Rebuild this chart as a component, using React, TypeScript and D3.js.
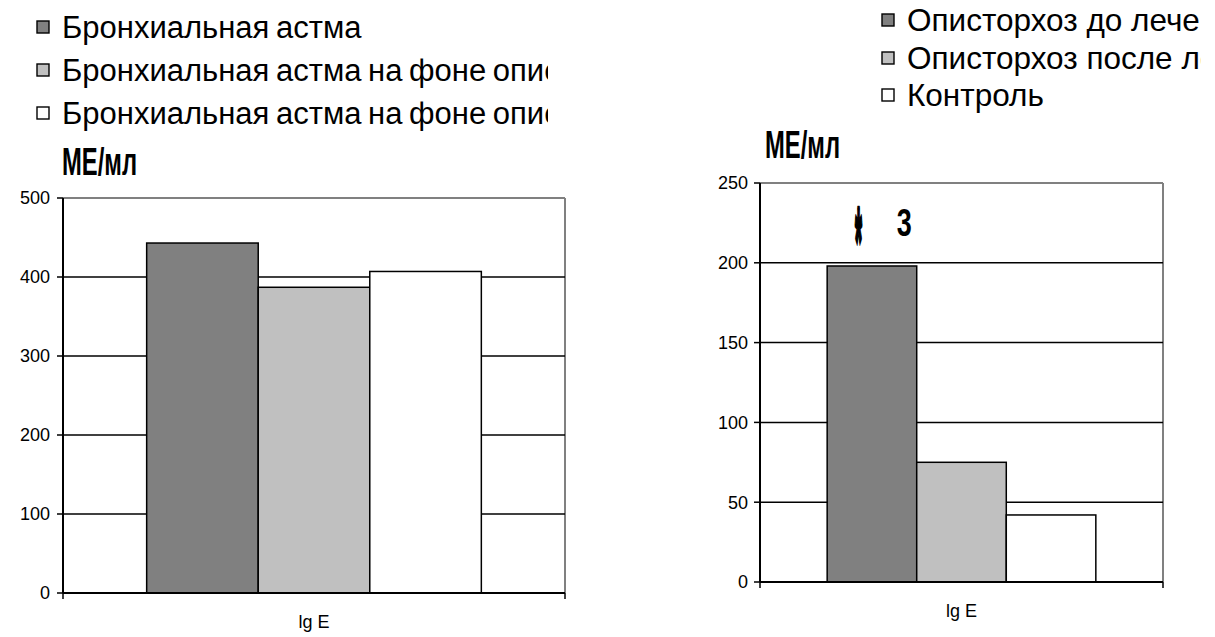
import React from "react";
import * as d3 from "d3";

// Categories and series
const category = ["lg E"];
const fills = ["#808080", "#c0c0c0", "#ffffff"];

const leftSeries = [
  "Бронхиальная астма",
  "Бронхиальная астма на фоне описторхоза до лечения",
  "Бронхиальная астма на фоне описторхоза после лечения",
];
const leftValues = [443, 387, 407];
const leftTicks = [0, 100, 200, 300, 400, 500];

const rightSeries = [
  "Описторхоз до лечения",
  "Описторхоз после лечения",
  "Контроль",
];
const rightValues = [198, 75, 42];
const rightTicks = [0, 50, 100, 150, 200, 250];

const unitLabel = "МЕ/мл";
const rightNote = ["*", "3"];

const FONT = "'Liberation Sans', Arial, sans-serif";

type PanelProps = {
  id: string;
  x0: number;
  x1: number;
  y0: number;
  y1: number;
  ticks: number[];
  values: number[];
  series: string[];
  legendX: number;
  legendRows: number[];
  legendClip: number;
  legendFont: number;
  legendWordSpacing: number;
  unitX: number;
  unitY: number;
  labelRight: number;
  catY: number;
  note?: boolean;
};

function Panel(p: PanelProps) {
  const y = d3
    .scaleLinear()
    .domain([0, d3.max(p.ticks) as number])
    .range([p.y1, p.y0]);
  const x = d3
    .scaleBand<string>()
    .domain(category)
    .range([p.x0, p.x1])
    .paddingInner(0)
    .paddingOuter(0.25);
  const xs = d3
    .scaleBand<number>()
    .domain(p.values.map((_, i) => i))
    .range([0, x.bandwidth()]);
  const bx = x(category[0]) as number;
  const cx = bx + x.bandwidth() / 2;
  const top = d3.max(p.ticks) as number;

  // annotation above the first bar
  const noteBase = y(p.values[0] + 19);
  const starX = bx + (xs(0) as number) + xs.bandwidth() * 0.35;
  const threeX = bx + (xs(0) as number) + xs.bandwidth() * 0.86;

  return (
    <g>
      <defs>
        <clipPath id={`clip-${p.id}`}>
          <rect x={0} y={0} width={p.legendClip} height={140} />
        </clipPath>
      </defs>

      {/* legend */}
      <g clipPath={`url(#clip-${p.id})`}>
        {p.series.map((s, i) => (
          <g key={s}>
            <rect
              x={p.legendX}
              y={p.legendRows[i] - 6}
              width={12}
              height={12}
              fill={fills[i]}
              stroke="#000"
              strokeWidth={1.4}
            />
            <text
              x={p.legendX + 25}
              y={p.legendRows[i]}
              dy="0.36em"
              fontFamily={FONT}
              fontSize={p.legendFont}
              wordSpacing={p.legendWordSpacing}
              fill="#000"
            >
              {s}
            </text>
          </g>
        ))}
      </g>

      {/* unit label */}
      <text
        x={p.unitX}
        y={p.unitY}
        fontFamily={FONT}
        fontWeight="bold"
        fontSize={38}
        textLength={75}
        lengthAdjust="spacingAndGlyphs"
        fill="#000"
      >
        {unitLabel}
      </text>

      {/* plot frame: top and right edges */}
      <line x1={p.x0} x2={p.x1} y1={p.y0} y2={p.y0} stroke="#808080" strokeWidth={2} />
      <line x1={p.x1} x2={p.x1} y1={p.y0} y2={p.y1} stroke="#808080" strokeWidth={2} />

      {/* gridlines */}
      {p.ticks
        .filter((t) => t !== 0 && t !== top)
        .map((t) => (
          <line key={t} x1={p.x0} x2={p.x1} y1={y(t)} y2={y(t)} stroke="#000" strokeWidth={1.5} />
        ))}

      {/* bars */}
      {p.values.map((v, i) => (
        <rect
          key={i}
          x={bx + (xs(i) as number)}
          y={y(v)}
          width={xs.bandwidth()}
          height={y(0) - y(v)}
          fill={fills[i]}
          stroke="#000"
          strokeWidth={1.5}
        />
      ))}

      {/* y axis */}
      <line x1={p.x0} x2={p.x0} y1={p.y0} y2={p.y1} stroke="#000" strokeWidth={2} />
      {p.ticks.map((t) => (
        <g key={t}>
          <line x1={p.x0 - 6} x2={p.x0} y1={y(t)} y2={y(t)} stroke="#000" strokeWidth={1.5} />
          <text
            x={p.labelRight}
            y={y(t)}
            dy="0.36em"
            textAnchor="end"
            fontFamily={FONT}
            fontSize={18}
            fill="#000"
          >
            {t}
          </text>
        </g>
      ))}

      {/* x axis */}
      <line x1={p.x0} x2={p.x1} y1={p.y1} y2={p.y1} stroke="#000" strokeWidth={2} />
      <line x1={p.x0} x2={p.x0} y1={p.y1} y2={p.y1 + 6} stroke="#000" strokeWidth={1.5} />
      <line x1={p.x1} x2={p.x1} y1={p.y1} y2={p.y1 + 6} stroke="#000" strokeWidth={1.5} />
      <text
        x={cx}
        y={p.catY}
        dy="0.36em"
        textAnchor="middle"
        fontFamily={FONT}
        fontSize={18}
        fill="#000"
      >
        {category[0]}
      </text>

      {p.note && (
        <g fontFamily={FONT} fontWeight="bold" fill="#000">
          <text
            x={0}
            y={16}
            textAnchor="middle"
            fontSize={40}
            stroke="#000"
            strokeWidth={1.8}
            strokeLinejoin="round"
            transform={`translate(${starX},${noteBase}) scale(0.45,2.4)`}
          >
            {rightNote[0]}
          </text>
          <text
            x={threeX}
            y={noteBase}
            textAnchor="middle"
            fontSize={38}
            textLength={15}
            lengthAdjust="spacingAndGlyphs"
          >
            {rightNote[1]}
          </text>
        </g>
      )}
    </g>
  );
}

export default function App() {
  return (
    <svg
      width={1215}
      height={637}
      style={{ position: "absolute", left: 0, top: 0, background: "#fff" }}
    >
      <rect width={1215} height={637} fill="#fff" />
      <Panel
        id="l"
        x0={63}
        x1={565}
        y0={198}
        y1={593}
        ticks={leftTicks}
        values={leftValues}
        series={leftSeries}
        legendX={37}
        legendRows={[27, 70, 113]}
        legendClip={548}
        legendFont={31}
        legendWordSpacing={-2}
        unitX={62}
        unitY={175}
        labelRight={50}
        catY={622}
      />
      <Panel
        id="r"
        x0={760}
        x1={1163}
        y0={183}
        y1={582}
        ticks={rightTicks}
        values={rightValues}
        series={rightSeries}
        legendX={882}
        legendRows={[20, 58, 95]}
        legendClip={1201}
        legendFont={31.5}
        legendWordSpacing={0}
        unitX={765}
        unitY={158}
        labelRight={748}
        catY={611}
        note
      />
    </svg>
  );
}
